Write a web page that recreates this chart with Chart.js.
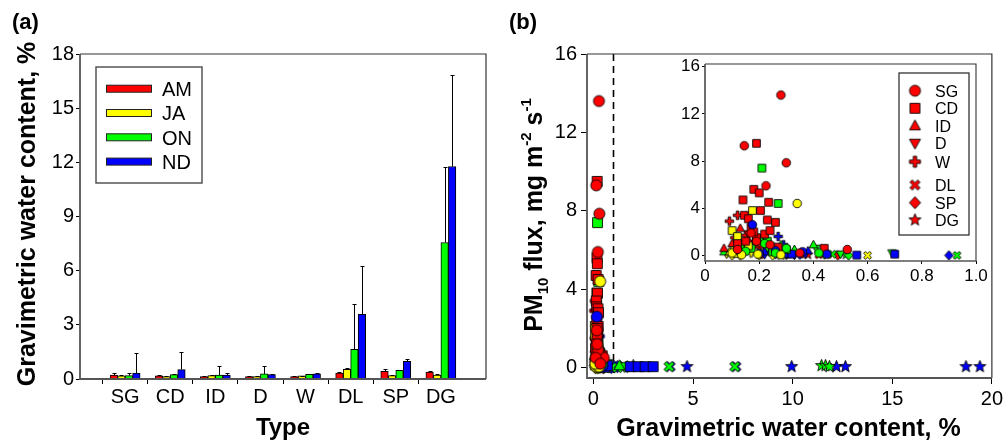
<!DOCTYPE html>
<html><head><meta charset="utf-8">
<script src="https://cdn.jsdelivr.net/npm/chart.js@4.4.1/dist/chart.umd.min.js"></script>
<style>
html,body{margin:0;padding:0;background:#fff;}
body{width:1006px;height:445px;position:relative;overflow:hidden;}
canvas{position:absolute;display:block;}
</style></head><body>
<canvas id="ca" width="500" height="445" style="left:0;top:0;width:500px;height:445px"></canvas>
<canvas id="cb" width="506" height="445" style="left:500px;top:0;width:506px;height:445px"></canvas>
<canvas id="ci" width="345" height="250" style="left:655px;top:40px;width:345px;height:250px"></canvas>
<script>
const FONT = "'Liberation Sans', Arial, Helvetica, sans-serif";
Chart.defaults.font.family = FONT;
Chart.defaults.color = '#000';

// ---------- Panel (a) data ----------
const typeLabels = ['SG','CD','ID','D','W','DL','SP','DG'];
const seasonLabels = ['AM','JA','ON','ND'];
const seasonColors = ['#ff0000','#ffff00','#00ff00','#0000ff'];
const amMean = [0.22,0.17,0.13,0.13,0.13,0.33,0.43,0.39];
const amSd   = [0.11,0.04,0.04,0.03,0.03,0.05,0.11,0.05];
const jaMean = [0.17,0.13,0.19,0.13,0.17,0.54,0.19,0.22];
const jaSd   = [0.03,0.03,0.03,0.03,0.02,0.05,0.03,0.03];
const onMean = [0.19,0.24,0.22,0.28,0.26,1.65,0.48,7.56];
const onSd   = [0.14,0.05,0.50,0.44,0.03,2.50,0.04,4.20];
const ndMean = [0.33,0.52,0.22,0.24,0.28,3.58,0.98,11.77];
const ndSd   = [1.09,0.95,0.11,0.04,0.03,2.68,0.11,5.07];
const yTicksA = [0,3,6,9,12,15,18];

// ---------- Panel (b) data: [water content %, PM10 flux, season index (0 AM,1 JA,2 ON,3 ND)] ----------
const SG = [[0.28,13.6,0],[0.145,9.3,0],[0.30,7.85,0],[0.225,5.9,0],[0.525,0.5,0],[0.17,1.9,0],[0.24,0.9,0],[0.12,0.5,0],[0.35,0.2,0],[0.19,1.2,0],
  [0.34,4.4,1],[0.135,0.05,1],[0.195,0.1,1],[0.28,0.05,1],[0.10,0.2,1],
  [0.22,1.0,2],[0.30,0.6,2],[0.42,0.2,2],[0.15,0.35,2],[0.26,0.2,2],
  [0.175,2.6,3],[0.26,0.4,3],[0.36,0.3,3],[0.45,0.1,3],[0.20,0.15,3]];
const CD = [[0.19,9.5,0],[0.18,5.6,0],[0.20,5.3,0],[0.14,4.7,0],[0.235,4.5,0],[0.205,3.8,0],[0.145,3.4,0],[0.16,3.1,0],[0.23,3.0,0],[0.26,2.8,0],
  [0.17,2.4,0],[0.22,1.8,0],[0.19,1.5,0],[0.15,1.2,0],[0.27,0.7,0],[0.44,0.6,0],[0.12,1.0,0],[0.24,2.1,0],[0.18,2.0,0],
  [0.175,3.8,1],[0.10,2.1,1],[0.12,1.6,1],[0.16,0.8,1],[0.11,0.4,1],
  [0.21,7.4,2],[0.27,4.4,2],[0.20,1.4,2],[0.23,1.2,2],[0.13,0.9,2],[0.30,0.5,2],[0.17,0.6,2],[0.25,0.3,2],
  [0.56,0.02,3],[0.70,0.1,3],[1.85,0.05,3],[2.25,0.05,3],[2.6,0.05,3],[3.0,0.05,3],[0.32,0.1,3]];
const ID = [[0.07,0.6,0],[0.13,2.3,0],[0.10,1.0,0],[0.20,0.4,0],[0.16,1.3,0],
  [0.09,0.3,1],[0.15,0.5,1],[0.12,0.1,1],
  [0.40,0.9,2],[0.28,0.9,2],[0.33,0.5,2],[0.12,0.7,2],[0.07,0.3,2],[1.3,0.1,2],[0.45,0.2,2],
  [0.22,0.3,3],[0.38,0.4,3],[0.30,0.1,3]];
const D = [[0.16,1.8,0],[0.25,0.3,0],[0.18,1.0,0],
  [0.08,0.1,1],[0.18,0.8,1],[0.14,0.3,1],
  [0.69,0.2,2],[0.41,0.6,2],[0.50,0.1,2],[0.14,1.0,2],[0.24,0.8,2],[0.44,0.05,2],[1.55,0.05,2],[0.27,0.25,2],
  [0.33,0.0,3],[0.30,0.05,3],[0.22,0.05,3],[0.37,0.1,3]];
const W = [[0.09,2.9,0],[0.12,3.4,0],[0.15,1.7,0],[0.11,1.5,0],[0.20,0.7,0],
  [0.13,0.4,1],[0.17,0.2,1],
  [0.18,1.1,2],[0.23,0.6,2],[0.15,0.5,2],
  [0.27,1.6,3],[0.29,0.9,3],[0.31,0.2,3]];
const DL = [[0.42,0.05,0],
  [0.60,0.0,1],[0.45,0.05,1],
  [0.93,0.0,2],[3.8,0.05,2],[7.1,0.05,2],[0.47,0.1,2],
  [3.85,0.05,3],[7.15,0.05,3]];
const SP = [[0.49,0.0,0],[0.21,0.1,0],[0.36,0.15,0],
  [0.10,0.0,1],[0.13,0.0,1],[0.20,0.0,1],[0.25,0.0,1],[0.30,0.05,1],
  [0.53,0.0,2],[1.35,0.05,2],[1.7,0.05,2],
  [0.90,0.0,3],[1.05,0.05,3],[1.2,0.05,3],[0.35,0.05,3],[0.26,0.1,3]];
const DG = [[0.38,0.05,0],[0.20,0.1,0],
  [0.28,0.0,1],
  [2.0,0.1,2],[11.45,0.1,2],[11.65,0.1,2],[11.85,0.05,2],[0.52,0.05,2],
  [4.7,0.05,3],[9.95,0.05,3],[12.2,0.05,3],[12.65,0.05,3],[18.7,0.05,3],[19.4,0.05,3]];
const xTicksB = [0,5,10,15,20];
const yTicksB = [0,4,8,12,16];
const xTicksInset = [0,0.2,0.4,0.6,0.8,1.0];
const yTicksInset = [0,4,8,12,16];

const typeData = [SG, CD, ID, D, W, DL, SP, DG];
const typeShapes = ['circle','square','tri','tridown','plus','x','diamond','star'];

// ---------- marker images ----------
function marker(shape, color, s){
  const c = document.createElement('canvas');
  const n = Math.ceil(s + 4); c.width = n; c.height = n;
  const g = c.getContext('2d');
  const m = n/2, r = s/2;
  g.fillStyle = color; g.strokeStyle = '#000'; g.lineWidth = 0.9; g.lineJoin = 'miter';
  let pts = null;
  g.beginPath();
  if (shape === 'circle') { g.arc(m, m, r, 0, Math.PI*2); }
  else if (shape === 'square') { const h = r*0.9; g.rect(m-h, m-h, 2*h, 2*h); }
  else if (shape === 'tri') pts = [[0,-r*1.05],[r*1.0,r*0.75],[-r*1.0,r*0.75]];
  else if (shape === 'tridown') pts = [[0,r*1.05],[r*1.0,-r*0.75],[-r*1.0,-r*0.75]];
  else if (shape === 'diamond') pts = [[0,-r*1.1],[r*1.0,0],[0,r*1.1],[-r*1.0,0]];
  else if (shape === 'plus' || shape === 'x') {
    const w = r*0.3, R = r*1.0;
    pts = [[-w,-R],[w,-R],[w,-w],[R,-w],[R,w],[w,w],[w,R],[-w,R],[-w,w],[-R,w],[-R,-w],[-w,-w]];
    if (shape === 'x') { const a = Math.PI/4, ca = Math.cos(a), sa = Math.sin(a);
      pts = pts.map(p => [p[0]*ca - p[1]*sa, p[0]*sa + p[1]*ca]); }
  }
  else if (shape === 'star') {
    pts = []; const R = r*1.15, ri = R*0.42;
    for (let i = 0; i < 10; i++) { const a = -Math.PI/2 + i*Math.PI/5; const rr = i%2 ? ri : R;
      pts.push([rr*Math.cos(a), rr*Math.sin(a)]); }
  }
  if (pts) { pts.forEach((p,i) => i ? g.lineTo(m+p[0], m+p[1]) : g.moveTo(m+p[0], m+p[1])); g.closePath(); }
  g.fill(); g.stroke();
  return c;
}

function buildSets(size){
  const sets = [];
  for (let t = 0; t < typeData.length; t++) {
    for (let s = 0; s < 4; s++) {
      const pts = typeData[t].filter(p => p[2] === s).map(p => ({x: p[0], y: p[1]}));
      if (!pts.length) continue;
      sets.push({ label: typeLabels[t] + ' ' + seasonLabels[s], data: pts,
        pointStyle: marker(typeShapes[t], seasonColors[s], size), pointRadius: 5, pointHoverRadius: 5 });
    }
  }
  return sets;
}

function drawFrame(ctx, a, axisCol, boxCol, lw){
  ctx.save();
  ctx.lineWidth = lw; ctx.strokeStyle = boxCol;
  ctx.beginPath(); ctx.moveTo(a.left, a.top); ctx.lineTo(a.right, a.top); ctx.lineTo(a.right, a.bottom); ctx.stroke();
  ctx.strokeStyle = axisCol; ctx.lineWidth = lw + 0.6;
  ctx.beginPath(); ctx.moveTo(a.left, a.top); ctx.lineTo(a.left, a.bottom); ctx.lineTo(a.right, a.bottom); ctx.stroke();
  ctx.restore();
}

// ---------- Panel (a) ----------
const errSets = [amSd, jaSd, onSd, ndSd];
const meanSets = [amMean, jaMean, onMean, ndMean];
const pluginA = {
  id: 'decorA',
  afterDatasetsDraw(chart){
    const ctx = chart.ctx, ys = chart.scales.y;
    ctx.save(); ctx.strokeStyle = '#000'; ctx.lineWidth = 1;
    chart.data.datasets.forEach((ds, i) => {
      const meta = chart.getDatasetMeta(i);
      meta.data.forEach((el, j) => {
        const v = ds.data[j]; if (v == null) return;
        const sd = errSets[i][j - 1];
        const x = Math.round(el.x) + 0.5, y0 = ys.getPixelForValue(v), y1 = Math.round(ys.getPixelForValue(v + sd)) + 0.5;
        ctx.beginPath(); ctx.moveTo(x, y0); ctx.lineTo(x, y1); ctx.moveTo(x - 2, y1); ctx.lineTo(x + 2, y1); ctx.stroke();
      });
    });
    ctx.restore();
  },
  afterDraw(chart){
    const ctx = chart.ctx, a = chart.chartArea;
    drawFrame(ctx, a, '#555', '#333', 1.2);
    ctx.save();
    // legend
    ctx.strokeStyle = '#555'; ctx.lineWidth = 1.5; ctx.strokeRect(96, 67, 106, 116);
    ctx.font = '20px ' + FONT; ctx.textBaseline = 'alphabetic'; ctx.textAlign = 'left';
    seasonLabels.forEach((lab, i) => {
      const y = 88.7 + i * 24.3;
      ctx.fillStyle = seasonColors[i]; ctx.fillRect(106, y - 3.5, 45, 7);
      ctx.strokeStyle = '#222'; ctx.lineWidth = 1; ctx.strokeRect(106.5, y - 3.5, 45, 7);
      ctx.fillStyle = '#000'; ctx.fillText(lab, 162, y + 7.2);
    });
    // titles
    ctx.fillStyle = '#000';
    ctx.font = 'bold 22px ' + FONT; ctx.fillText('(a)', 12, 29);
    ctx.font = 'bold 24px ' + FONT; ctx.textAlign = 'center';
    ctx.fillText('Type', (a.left + a.right) / 2, 435);
    ctx.save(); ctx.translate(35, 214); ctx.rotate(-Math.PI / 2);
    ctx.font = 'bold 25px ' + FONT; ctx.fillText('Gravimetric water content, %', 0, 0);
    ctx.restore();
    ctx.restore();
  }
};

const catLabels = [''].concat(typeLabels, ['']);
new Chart(document.getElementById('ca'), {
  type: 'bar',
  data: {
    labels: catLabels,
    datasets: meanSets.map((m, i) => ({
      label: seasonLabels[i], data: [null].concat(m, [null]),
      backgroundColor: seasonColors[i], borderColor: '#000', borderWidth: 1, barThickness: 7.5
    }))
  },
  options: {
    responsive: false, animation: false, devicePixelRatio: 1,
    layout: { padding: { left: 0, right: 14, top: 54, bottom: 0 } },
    plugins: { legend: { display: false }, tooltip: { enabled: false } },
    scales: {
      x: { type: 'category', offset: false,
        grid: { drawOnChartArea: false, drawTicks: true, tickLength: 5,
          color: c => (c.index === 0 || c.index === catLabels.length - 1) ? 'rgba(0,0,0,0)' : '#000' },
        border: { display: false },
        ticks: { font: { size: 20 }, color: '#000', padding: 1, autoSkip: false, maxRotation: 0 },
        afterFit: s => { s.height = 66; } },
      y: { min: 0, max: 18,
        grid: { drawOnChartArea: false, drawTicks: true, tickLength: 4, color: '#000' },
        border: { display: false },
        ticks: { font: { size: 20 }, color: '#000', padding: 2 },
        afterBuildTicks: s => { s.ticks = yTicksA.map(v => ({ value: v })); },
        afterFit: s => { s.width = 80; } }
    }
  },
  plugins: [pluginA]
});

// ---------- Panel (b) main ----------
const pluginB = {
  id: 'decorB',
  beforeDatasetsDraw(chart){
    const ctx = chart.ctx, a = chart.chartArea, xs = chart.scales.x;
    const x = Math.round(xs.getPixelForValue(1)) + 0.5;
    ctx.save(); ctx.strokeStyle = '#000'; ctx.lineWidth = 1.6; ctx.setLineDash([7, 5]);
    ctx.beginPath(); ctx.moveTo(x, a.top); ctx.lineTo(x, a.bottom); ctx.stroke(); ctx.restore();
  },
  afterDraw(chart){
    const ctx = chart.ctx, a = chart.chartArea;
    drawFrame(ctx, a, '#555', '#333', 1.2);
    ctx.save(); ctx.fillStyle = '#000'; ctx.textBaseline = 'alphabetic';
    ctx.font = 'bold 22px ' + FONT; ctx.textAlign = 'left'; ctx.fillText('(b)', 9, 29);
    ctx.font = 'bold 25px ' + FONT; ctx.textAlign = 'center';
    ctx.fillText('Gravimetric water content, %', (a.left + a.right) / 2 - 1, 436);
    // rotated y title with sub/superscripts
    const parts = [['PM', 25, 0], ['10', 15, 6], [' flux, mg m', 25, 0], ['-2', 15, -11], [' s', 25, 0], ['-1', 15, -11]];
    ctx.save(); ctx.translate(42, 215); ctx.rotate(-Math.PI / 2); ctx.textAlign = 'left';
    let total = 0;
    parts.forEach(p => { ctx.font = 'bold ' + p[1] + 'px ' + FONT; total += ctx.measureText(p[0]).width; });
    let x = -total / 2;
    parts.forEach(p => { ctx.font = 'bold ' + p[1] + 'px ' + FONT; ctx.fillText(p[0], x, p[2]); x += ctx.measureText(p[0]).width; });
    ctx.restore();
    ctx.restore();
  }
};

new Chart(document.getElementById('cb'), {
  type: 'scatter',
  data: { datasets: buildSets(11) },
  options: {
    responsive: false, animation: false, devicePixelRatio: 1,
    layout: { padding: { left: 0, right: 14, top: 54, bottom: 0 } },
    plugins: { legend: { display: false }, tooltip: { enabled: false } },
    scales: {
      x: { type: 'linear', min: -0.32, max: 20,
        grid: { drawOnChartArea: false, drawTicks: true, tickLength: 6, color: '#000' },
        border: { display: false },
        ticks: { font: { size: 20 }, color: '#000', padding: 3 },
        afterBuildTicks: s => { s.ticks = xTicksB.map(v => ({ value: v })); },
        afterFit: s => { s.height = 67; } },
      y: { type: 'linear', min: -0.53, max: 16,
        grid: { drawOnChartArea: false, drawTicks: true, tickLength: 6, color: '#000' },
        border: { display: false },
        ticks: { font: { size: 20 }, color: '#000', padding: 4 },
        afterBuildTicks: s => { s.ticks = yTicksB.map(v => ({ value: v })); },
        afterFit: s => { s.width = 87; } }
    }
  },
  plugins: [pluginB]
});

// ---------- Inset ----------
const pluginI = {
  id: 'decorI',
  beforeDatasetsDraw(chart){
    const ctx = chart.ctx, a = chart.chartArea;
    ctx.save(); ctx.fillStyle = '#fff'; ctx.fillRect(a.left, a.top, a.right - a.left, a.bottom - a.top); ctx.restore();
  },
  afterDraw(chart){
    const ctx = chart.ctx, a = chart.chartArea;
    drawFrame(ctx, a, '#555', '#333', 1.1);
    ctx.save();
    ctx.fillStyle = '#fff'; ctx.fillRect(244, 33, 70, 162);
    ctx.strokeStyle = '#333'; ctx.lineWidth = 1.3; ctx.strokeRect(244, 33, 70, 162);
    const ys = [50.7, 68.3, 85.7, 103.3, 121.7, 145, 162.7, 180];
    ctx.font = '16px ' + FONT; ctx.fillStyle = '#000'; ctx.textAlign = 'left'; ctx.textBaseline = 'alphabetic';
    typeLabels.forEach((lab, i) => {
      const img = marker(typeShapes[i], seasonColors[0], 11);
      ctx.drawImage(img, 260 - img.width / 2, ys[i] - img.height / 2);
      ctx.fillStyle = '#000'; ctx.fillText(lab, 280, ys[i] + 5.8);
    });
    ctx.restore();
  }
};

new Chart(document.getElementById('ci'), {
  type: 'scatter',
  data: { datasets: buildSets(8.5) },
  options: {
    responsive: false, animation: false, devicePixelRatio: 1,
    layout: { padding: { left: 0, right: 24, top: 24, bottom: 0 } },
    plugins: { legend: { display: false }, tooltip: { enabled: false } },
    scales: {
      x: { type: 'linear', min: 0, max: 1.0,
        grid: { drawOnChartArea: false, drawTicks: true, tickLength: 3, color: '#000' },
        border: { display: false },
        ticks: { font: { size: 17 }, color: '#000', padding: 2, callback: v => v === 0 ? '0' : Number(v).toFixed(1) },
        afterBuildTicks: s => { s.ticks = xTicksInset.map(v => ({ value: v })); },
        afterFit: s => { s.height = 29; } },
      y: { type: 'linear', min: -0.48, max: 16.23,
        grid: { drawOnChartArea: false, drawTicks: true, tickLength: 3, color: '#000' },
        border: { display: false },
        ticks: { font: { size: 17 }, color: '#000', padding: 2 },
        afterBuildTicks: s => { s.ticks = yTicksInset.map(v => ({ value: v })); },
        afterFit: s => { s.width = 50; } }
    }
  },
  plugins: [pluginI]
});
</script></body></html>
